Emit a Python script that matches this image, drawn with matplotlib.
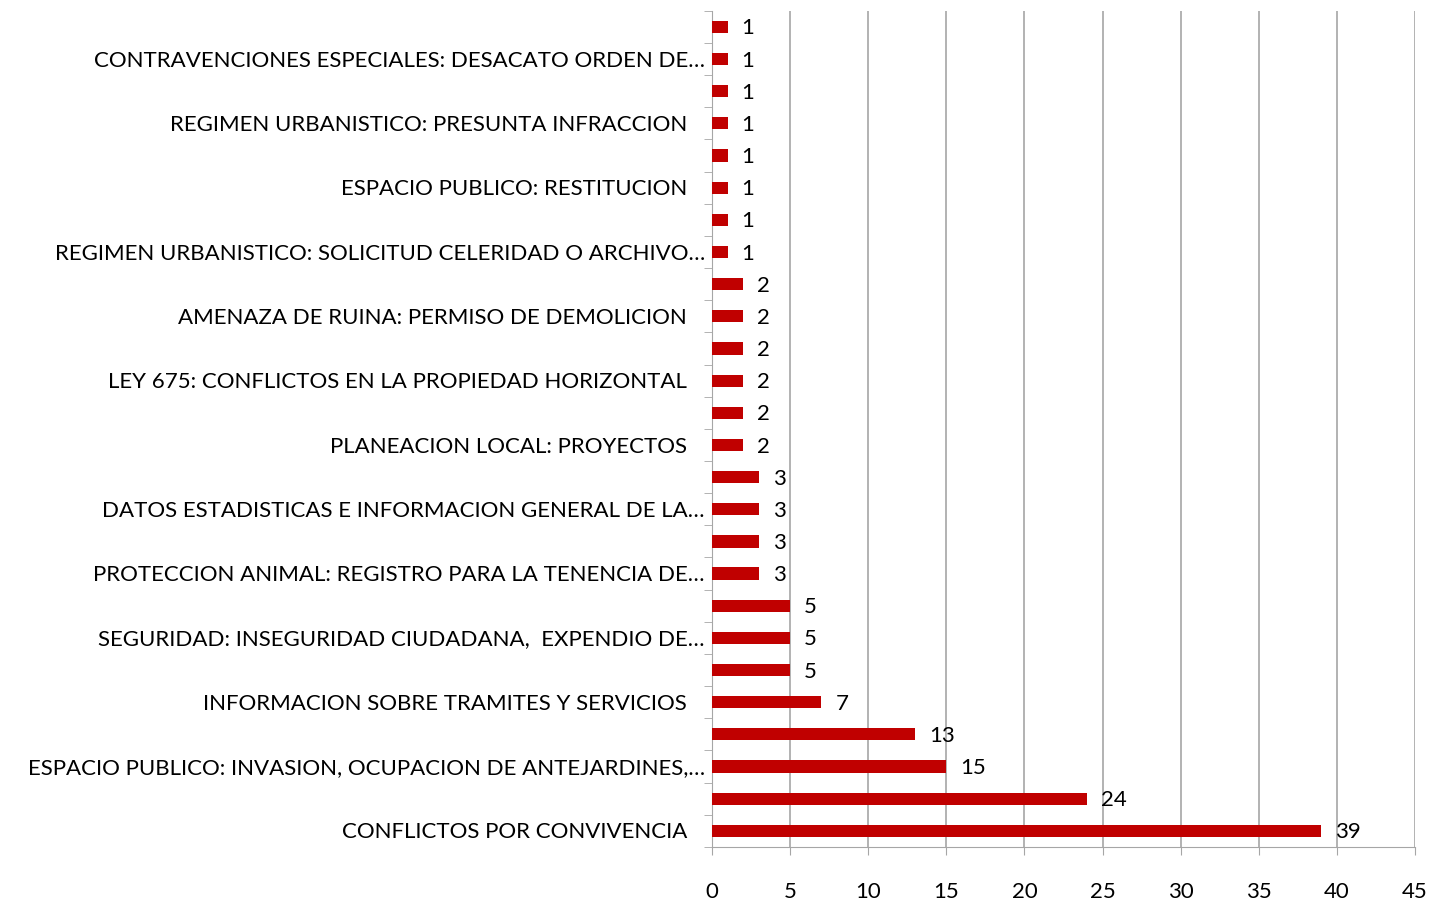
import matplotlib as mpl
mpl.rcParams['figure.dpi'] = 100
mpl.rcParams['savefig.dpi'] = 100
mpl.rcParams['font.family'] = ['Lato', 'DejaVu Sans']

import matplotlib.pyplot as plt
import numpy as np

# categorias de abajo hacia arriba (solo una de cada dos lleva texto)
categorias = [
    'CONFLICTOS POR CONVIVENCIA', '',
    'ESPACIO PUBLICO: INVASION, OCUPACION DE ANTEJARDINES,…', '',
    'INFORMACION SOBRE TRAMITES Y SERVICIOS', '',
    'SEGURIDAD: INSEGURIDAD CIUDADANA,  EXPENDIO DE…', '',
    'PROTECCION ANIMAL: REGISTRO PARA LA TENENCIA DE…', '',
    'DATOS ESTADISTICAS E INFORMACION GENERAL DE LA…', '',
    'PLANEACION LOCAL: PROYECTOS', '',
    'LEY 675: CONFLICTOS EN LA PROPIEDAD HORIZONTAL', '',
    'AMENAZA DE RUINA: PERMISO DE DEMOLICION', '',
    'REGIMEN URBANISTICO: SOLICITUD CELERIDAD O ARCHIVO…', '',
    'ESPACIO PUBLICO: RESTITUCION', '',
    'REGIMEN URBANISTICO: PRESUNTA INFRACCION', '',
    'CONTRAVENCIONES ESPECIALES: DESACATO ORDEN DE…', '',
]
valores = [39, 24, 15, 13, 7, 5, 5, 5, 3, 3, 3, 3, 2, 2, 2, 2, 2, 2,
           1, 1, 1, 1, 1, 1, 1, 1]

rojo = '#C00000'
gris = '#A6A6A6'
fs = 16

fig = plt.figure(figsize=(14.32, 9))
ax = fig.add_axes([0.4972, 0.059, 0.4909, 0.929])

y = np.arange(len(valores))
ax.barh(y, valores, height=0.38, color=rojo, zorder=3)
for yi, v in zip(y, valores):
    ax.text(v + 0.9, yi - 0.05, str(v), va='center', ha='left', fontsize=fs, zorder=4)

ax.set_xlim(0, 45)
ax.set_ylim(-0.5, len(valores) - 0.5)
ax.set_xticks(np.arange(0, 46, 5))
ax.tick_params(axis='x', length=6, color=gris, labelsize=fs, pad=19)

# etiquetas: las que no terminan en ... quedan un poco mas separadas
ax.set_yticks(y)
ax.set_yticklabels([])
ax.set_yticks(np.arange(-0.5, len(valores), 1), minor=True)
ax.tick_params(axis='y', which='major', length=0)
ax.tick_params(axis='y', which='minor', length=6, color=gris)
for yi, c in zip(y, categorias):
    if not c:
        continue
    xpos = -0.01 if c.endswith('…') else -0.0356
    ax.text(xpos, yi - 0.05, c, transform=ax.get_yaxis_transform(),
            ha='right', va='center', fontsize=fs)

ax.grid(axis='x', color=gris, linewidth=1.2, zorder=0)
ax.spines['top'].set_visible(False)
ax.spines['right'].set_visible(False)
ax.spines['left'].set_color(gris)
ax.spines['bottom'].set_color(gris)

plt.savefig('out.png')
